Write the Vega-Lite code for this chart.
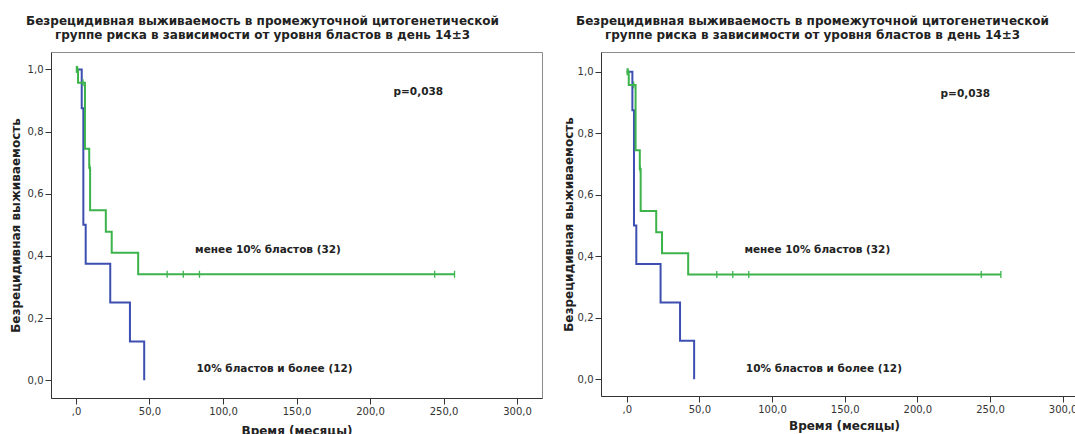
{
  "$schema": "https://vega.github.io/schema/vega-lite/v6.json",
  "padding": {"left": 8, "top": 14, "right": 0, "bottom": 0},
  "background": "white",
  "config": {
    "font": "DejaVu Sans",
    "view": {"stroke": "#8c8c8c", "strokeWidth": 1},
    "axis": {"grid": false, "domainColor": "#333333", "tickColor": "#333333", "tickSize": 6, "labelFont": "DejaVu Sans", "labelFontSize": 10, "labelColor": "#333333", "labelPadding": 2, "labelFlush": false, "titleFont": "DejaVu Sans", "titleFontSize": 12, "titleFontWeight": "bold", "titleColor": "#222222"},
    "title": {"font": "DejaVu Sans", "fontSize": 12, "fontWeight": "bold", "color": "#222222", "lineHeight": 14},
    "concat": {"spacing": 18}
  },
  "datasets": {
    "km": [
      {"group": "B", "t": 0, "s": 1.0},
      {"group": "B", "t": 3.9, "s": 0.875},
      {"group": "B", "t": 5.0, "s": 0.5},
      {"group": "B", "t": 6.6, "s": 0.375},
      {"group": "B", "t": 23.3, "s": 0.25},
      {"group": "B", "t": 36.7, "s": 0.125},
      {"group": "B", "t": 46.4, "s": 0.0},
      {"group": "G", "t": 0, "s": 1.0},
      {"group": "G", "t": 1.4, "s": 0.957},
      {"group": "G", "t": 6.1, "s": 0.745},
      {"group": "G", "t": 9.0, "s": 0.684},
      {"group": "G", "t": 9.6, "s": 0.547},
      {"group": "G", "t": 20.3, "s": 0.478},
      {"group": "G", "t": 24.3, "s": 0.41},
      {"group": "G", "t": 42.3, "s": 0.341},
      {"group": "G", "t": 257.5, "s": 0.341}
    ],
    "cens": [
      {"group": "G", "t": 0.3, "s": 1.0},
      {"group": "G", "t": 1.0, "s": 1.0},
      {"group": "G", "t": 4.8, "s": 0.957},
      {"group": "G", "t": 9.3, "s": 0.684},
      {"group": "G", "t": 62, "s": 0.341},
      {"group": "G", "t": 73, "s": 0.341},
      {"group": "G", "t": 84, "s": 0.341},
      {"group": "G", "t": 244, "s": 0.341},
      {"group": "G", "t": 257.5, "s": 0.341}
    ],
    "ann": [
      {"x": 216, "y": 0.928, "label": "p=0,038"},
      {"x": 81, "y": 0.419, "label": "менее 10% бластов (32)"},
      {"x": 82, "y": 0.035, "label": "10% бластов и более (12)"}
    ]
  },
  "hconcat": [
    {
      "width": 491,
      "height": 346,
      "title": {"text": ["Безрецидивная выживаемость в промежуточной цитогенетической", "группе риска в зависимости от уровня бластов в день 14±3"], "frame": "group", "anchor": "middle", "dx": -34, "offset": 10},
      "layer": [
        {
          "data": {"name": "km"},
          "transform": [{"filter": "datum.group == 'B'"}],
          "mark": {"type": "line", "interpolate": "step-after", "strokeWidth": 2, "color": "#3d4fb0"},
          "encoding": {
            "x": {"field": "t", "type": "quantitative", "scale": {"domain": [-17, 317], "nice": false, "zero": false}, "axis": {"title": "Время (месяцы)", "values": [0, 50, 100, 150, 200, 250, 300], "labelExpr": "datum.value == 0 ? ',0' : replace(format(datum.value, '.1f'), '.', ',')", "titlePadding": 9}},
            "y": {"field": "s", "type": "quantitative", "scale": {"domain": [-0.057, 1.056], "nice": false, "zero": false}, "axis": {"title": "Безрецидивная выживаемость", "values": [0, 0.2, 0.4, 0.6, 0.8, 1.0], "labelExpr": "replace(format(datum.value, '.1f'), '.', ',')", "titlePadding": 5}}
          }
        },
        {
          "data": {"name": "km"},
          "transform": [{"filter": "datum.group == 'G'"}],
          "mark": {"type": "line", "interpolate": "step-after", "strokeWidth": 2, "color": "#3cb44b"},
          "encoding": {
            "x": {"field": "t", "type": "quantitative"},
            "y": {"field": "s", "type": "quantitative"}
          }
        },
        {
          "data": {"name": "cens"},
          "mark": {"type": "point", "shape": "M0,-1V1", "filled": false, "size": 49, "strokeWidth": 1.3, "color": "#3cb44b", "opacity": 1},
          "encoding": {
            "x": {"field": "t", "type": "quantitative"},
            "y": {"field": "s", "type": "quantitative"}
          }
        },
        {
          "data": {"name": "ann"},
          "mark": {"type": "text", "align": "left", "baseline": "middle", "fontSize": 10.5, "fontWeight": "bold", "color": "#222222", "font": "DejaVu Sans"},
          "encoding": {
            "x": {"field": "x", "type": "quantitative"},
            "y": {"field": "y", "type": "quantitative"},
            "text": {"field": "label"}
          }
        }
      ]
    },
    {
      "width": 475,
      "height": 344,
      "title": {"text": ["Безрецидивная выживаемость в промежуточной цитогенетической", "группе риска в зависимости от уровня бластов в день 14±3"], "frame": "group", "anchor": "middle", "dx": -26, "offset": 10},
      "layer": [
        {
          "data": {"name": "km"},
          "transform": [{"filter": "datum.group == 'B'"}],
          "mark": {"type": "line", "interpolate": "step-after", "strokeWidth": 2, "color": "#3d4fb0"},
          "encoding": {
            "x": {"field": "t", "type": "quantitative", "scale": {"domain": [-17.7, 309.2], "nice": false, "zero": false}, "axis": {"title": "Время (месяцы)", "values": [0, 50, 100, 150, 200, 250, 300], "labelExpr": "datum.value == 0 ? ',0' : replace(format(datum.value, '.1f'), '.', ',')", "titlePadding": 6, "titleX": 243}},
            "y": {"field": "s", "type": "quantitative", "scale": {"domain": [-0.0543, 1.064], "nice": false, "zero": false}, "axis": {"title": "Безрецидивная выживаемость", "values": [0, 0.2, 0.4, 0.6, 0.8, 1.0], "labelExpr": "replace(format(datum.value, '.1f'), '.', ',')", "titlePadding": 2}}
          }
        },
        {
          "data": {"name": "km"},
          "transform": [{"filter": "datum.group == 'G'"}],
          "mark": {"type": "line", "interpolate": "step-after", "strokeWidth": 2, "color": "#3cb44b"},
          "encoding": {
            "x": {"field": "t", "type": "quantitative"},
            "y": {"field": "s", "type": "quantitative"}
          }
        },
        {
          "data": {"name": "cens"},
          "mark": {"type": "point", "shape": "M0,-1V1", "filled": false, "size": 49, "strokeWidth": 1.3, "color": "#3cb44b", "opacity": 1},
          "encoding": {
            "x": {"field": "t", "type": "quantitative"},
            "y": {"field": "s", "type": "quantitative"}
          }
        },
        {
          "data": {"name": "ann"},
          "mark": {"type": "text", "align": "left", "baseline": "middle", "fontSize": 10.5, "fontWeight": "bold", "color": "#222222", "font": "DejaVu Sans"},
          "encoding": {
            "x": {"field": "x", "type": "quantitative"},
            "y": {"field": "y", "type": "quantitative"},
            "text": {"field": "label"}
          }
        }
      ]
    }
  ]
}
